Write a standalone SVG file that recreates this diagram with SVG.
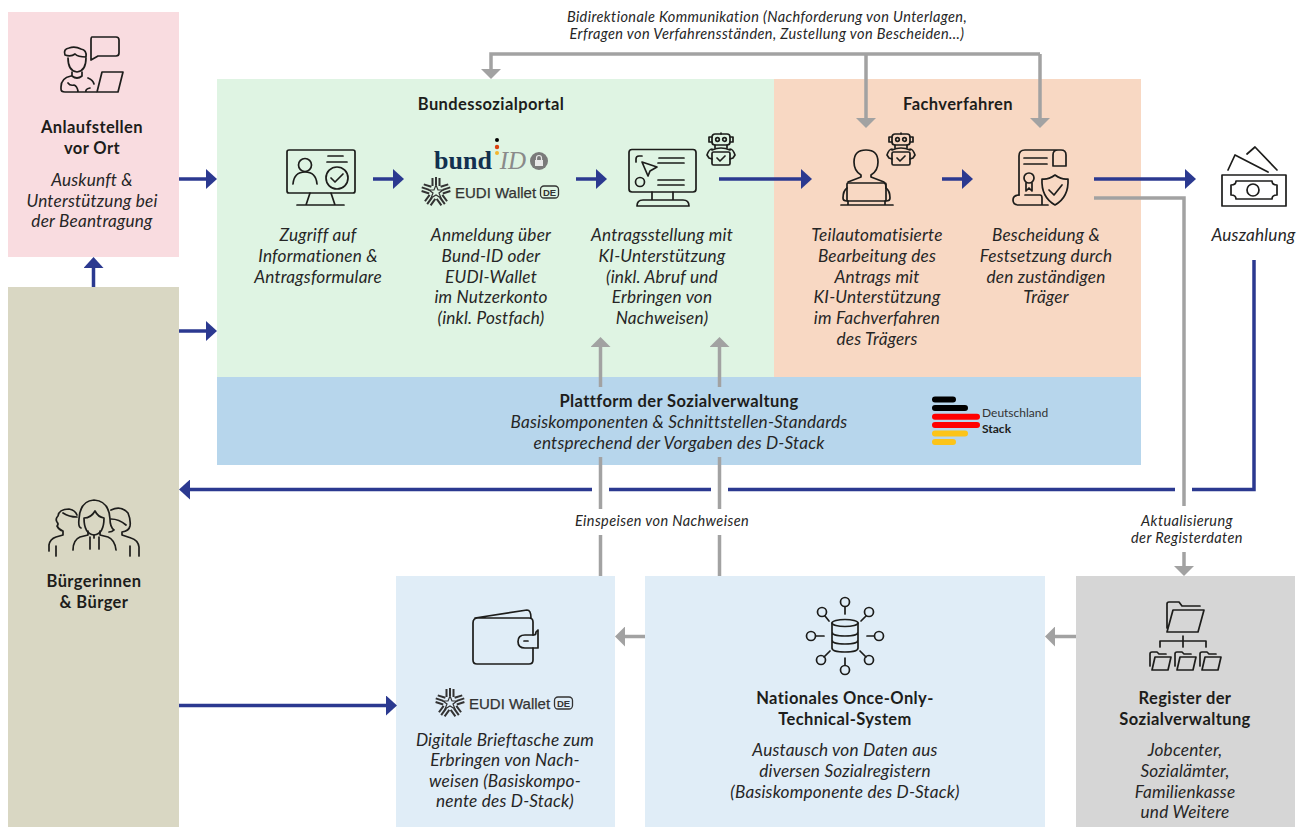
<svg xmlns="http://www.w3.org/2000/svg" xmlns:xlink="http://www.w3.org/1999/xlink" width="1309" height="827" viewBox="0 0 1309 827">
<style>
text{font-family:"Lato","Noto Sans",sans-serif;fill:#1d1d1b;text-anchor:middle}
.b{font-weight:700;font-size:16.5px;letter-spacing:.4px;transform:translateY(.8px)}
.i{font-style:italic;font-size:17.2px;letter-spacing:.2px;fill:#262626;transform:translateY(.8px)}
.s{font-style:italic;font-size:14.5px;letter-spacing:.4px;fill:#262626}
.ic{fill:none;stroke:#1d1d1b;stroke-width:1.7;stroke-linecap:round;stroke-linejoin:round}
.n{fill:none;stroke:#2b3990;stroke-width:3.5}
.g{fill:none;stroke:#a2a2a2;stroke-width:3.5}
</style>
<defs>
<marker id="an" markerUnits="userSpaceOnUse" markerWidth="11" markerHeight="20" refX="0" refY="10" orient="auto"><path d="M0 0L11 10L0 20Z" fill="#2b3990"/></marker>
<marker id="ag" markerUnits="userSpaceOnUse" markerWidth="10" markerHeight="20" refX="0" refY="10" orient="auto"><path d="M0 0L10 10L0 20Z" fill="#a2a2a2"/></marker>
<g id="robot" class="ic" stroke-width="1.4">
<rect x="-9" y="0" width="18" height="11" rx="3"/>
<path d="M-9 3h-3v5h3M9 3h3v5h-3M0 0v-1M-6 11v3M6 11v3"/>
<circle cx="-3.5" cy="5.5" r="1.8"/><circle cx="3.5" cy="5.5" r="1.8"/>
<rect x="-9" y="18" width="18" height="13" rx="1.5"/>
<path d="M-9 15q-3 0-5 6l2 3 3 1M9 15q3 0 5 6l-2 3-3 1M-9 16q9-4 18 0M-4 24l3 3 5-5"/>
</g>
<g id="eudi">
<g fill="none" stroke="#333" stroke-width="2">
<path d="M-3.500 -14V-6M0 -15V-7M3.500 -14V-6"/>
<path d="M-3.500 -14V-6M0 -15V-7M3.500 -14V-6" transform="rotate(72)"/>
<path d="M-3.500 -14V-6M0 -15V-7M3.500 -14V-6" transform="rotate(144)"/>
<path d="M-3.500 -14V-6M0 -15V-7M3.500 -14V-6" transform="rotate(216)"/>
<path d="M-3.500 -14V-6M0 -15V-7M3.500 -14V-6" transform="rotate(288)"/>
<path d="M0 -7L2 -2 7 -2 3 1 5 6 0 3-5 6-3 1-7-2-2-2Z" stroke-width="1.200"/>
</g>
<text x="19" y="5.500" style="text-anchor:start;font-family:'Liberation Sans',sans-serif;font-size:15px;font-weight:400;fill:#333;stroke:#333;stroke-width:.25">EUDI Wallet</text>
<rect x="104.500" y="-6" width="18" height="12" rx="3.500" fill="none" stroke="#333" stroke-width="1.300"/>
<text x="113.500" y="3.500" style="font-family:'Liberation Sans',sans-serif;font-size:9.500px;font-weight:700;fill:#333">DE</text>
</g>
<g id="smallfolder" class="ic" stroke-width="1.5"><path d="M0 15V3q0-2 2-2h5l2 2h7M2 19L5 6H21L18 19Z"/></g>
</defs>

<g id="node-anlaufstellen">
<rect x="8" y="12" width="171" height="245" fill="#f9dce0"/>
<g class="ic">
<path d="M92 37H116q3 0 3 3V53q0 3-3 3H98L91 60V40q0-3 1-3Z"/>
<path d="M68 58q0 13 9 14 9-1 9-14M65 55q-2-6 4-7 6-2 12 1 6 1 5 8-8 0-11-3-4 3-10 1Z"/>
<path d="M72 72v4q5 4 10 0v-4M71 76q-10 2-10 11v2q0 3 4 3H96M88 78q5 2 6 6M68 83q2 3 6 2 3 1 4 6M86 92q-1-3 4-4"/>
<path d="M102 72H123L118 92H97Z"/>
</g>
<text class="b" x="92" y="132">Anlaufstellen</text>
<text class="b" x="92" y="153">vor Ort</text>
<text class="i" x="92" y="185">Auskunft &amp;</text>
<text class="i" x="92" y="206">Unterstützung bei</text>
<text class="i" x="92" y="226.500">der Beantragung</text>
</g>

<g id="node-buerger">
<rect x="8" y="287" width="171" height="540" fill="#d9d7c3"/>
<g class="ic">
<path d="M81 528q-3-1-2-9 1-18 15-19 15 1 16 19 0 8 4 11-2 2-5 2"/>
<path d="M84 518q7 0 11-7 3 6 9 7 0 16-10 17-10-1-10-17Z"/>
<path d="M88 531v4l-8 2q-7 3-7 13M100 531v4l8 2q7 3 8 13M90 537v12M99 537v12M94 535v3"/>
<path d="M77 515q-2-5-8-6-10 0-11 7-3 3-1 6 2 2 0 4 2 4 6 5v4l-7 2q-6 2-7 8v6M56 546v10M77 517q-8 0-14-4"/>
<path d="M111 510q10-5 17 3 3 7 2 13-1 5-8 6v3l9 3q7 2 8 9v9M130 546v10M111 519q8 0 15 6"/>
</g>
<text class="b" x="94" y="586">Bürgerinnen</text>
<text class="b" x="94" y="607">&amp; Bürger</text>
</g>

<g id="node-bundessozialportal">
<rect x="217" y="79" width="557" height="298" fill="#dff4e3"/>
<text class="b" x="491" y="109">Bundessozialportal</text>
</g>

<g id="node-fachverfahren">
<rect x="774" y="79" width="367" height="298" fill="#f8d8c3"/>
<text class="b" x="958" y="109">Fachverfahren</text>
</g>

<g id="node-plattform">
<rect x="217" y="377" width="924" height="88" fill="#b7d6ec"/>
<text class="b" x="679" y="406">Plattform der Sozialverwaltung</text>
<text class="i" x="679" y="427">Basiskomponenten &amp; Schnittstellen-Standards</text>
<text class="i" x="679" y="448">entsprechend der Vorgaben des D-Stack</text>
<g stroke-width="6" stroke-linecap="round" fill="none">
<path d="M935 399.500H953M935 408H965" stroke="#000"/>
<path d="M935 416.800H977M935 425H977" stroke="#f00"/>
<path d="M935 433.500H965M935 442H953" stroke="#fcc419"/>
</g>
<text x="982" y="417" style="text-anchor:start;font-size:12px;fill:#333">Deutschland</text>
<text x="982" y="433" style="text-anchor:start;font-size:12px;font-weight:700">Stack</text>
</g>

<g id="node-zugriff">
<g class="ic">
<rect x="287" y="150" width="68" height="43" rx="2"/>
<path d="M310 193L306 205M331 193L335 205M297 205H344M328 156H343M327 162H347"/>
<circle cx="305" cy="165" r="6.500"/>
<path d="M293 184q1-12 12-12t12 12"/>
<circle cx="337" cy="178" r="11"/>
<path d="M331 178l4 4 8-8"/>
</g>
<text class="i" x="318" y="240">Zugriff auf</text>
<text class="i" x="318" y="261">Informationen &amp;</text>
<text class="i" x="318" y="282">Antragsformulare</text>
</g>

<g id="node-anmeldung">
<text x="463" y="169" style="font-family:'Liberation Serif',serif;font-weight:700;font-size:26px;fill:#12304f">bund</text>
<text x="513" y="169" style="font-family:'Liberation Serif',serif;font-style:italic;font-size:25px;fill:#8a8a8a">ID</text>
<circle cx="497" cy="140" r="2" fill="#000"/><circle cx="497" cy="147" r="2.200" fill="#d9400e"/><circle cx="497" cy="153" r="2" fill="#f5b52e"/>
<circle cx="539" cy="161" r="9" fill="#7a7a7a"/>
<rect x="535" y="160" width="8" height="6" fill="#e8e8e8"/><path d="M536.500 160v-2a2.500 2.500 0 015 0v2" fill="none" stroke="#e8e8e8" stroke-width="1.200"/>
<use xlink:href="#eudi" href="#eudi" x="436" y="192"/>
<text class="i" x="491" y="240">Anmeldung über</text>
<text class="i" x="491" y="261">Bund-ID oder</text>
<text class="i" x="491" y="282">EUDI-Wallet</text>
<text class="i" x="491" y="302.500">im Nutzerkonto</text>
<text class="i" x="491" y="323.500">(inkl. Postfach)</text>
</g>

<g id="node-antragstellung">
<g class="ic">
<rect x="629" y="149.500" width="67" height="42.500" rx="3"/>
<path d="M652 192v8M673 192v8M637 206q0-6 6-6H683q6 0 6 6ZM659 158H684M658 163H684M658 180H684M658 185H684M642 156h-3q-3 0-3 3v3"/>
<path d="M642 162L657 167 650 171 648 176Z"/>
<circle cx="640" cy="182" r="4.500"/>
</g>
<use xlink:href="#robot" href="#robot" x="721" y="134"/>
<text class="i" x="662" y="240">Antragsstellung mit</text>
<text class="i" x="662" y="261">KI-Unterstützung</text>
<text class="i" x="662" y="282">(inkl. Abruf und</text>
<text class="i" x="662" y="302.500">Erbringen von</text>
<text class="i" x="662" y="323.500">Nachweisen)</text>
</g>

<g id="node-bearbeitung">
<g class="ic">
<path d="M861 175q-7-4-7-13 0-12 12-12t12 12q0 9-7 13v2l13 5q2 2 2 6M861 175v2l-13 5"/>
<rect x="847" y="183" width="39" height="18" rx="1"/>
<path d="M841 205H893M847 188q-4 3-4 10 0 3 4 3M886 188q4 3 4 10 0 3-4 3M848 201v4M885 201v4"/>
</g>
<use xlink:href="#robot" href="#robot" x="901" y="134"/>
<text class="i" x="877" y="240">Teilautomatisierte</text>
<text class="i" x="877" y="261">Bearbeitung des</text>
<text class="i" x="877" y="282">Antrags mit</text>
<text class="i" x="877" y="302.500">KI-Unterstützung</text>
<text class="i" x="877" y="323.500">im Fachverfahren</text>
<text class="i" x="877" y="344.500">des Trägers</text>
</g>

<g id="node-bescheidung">
<g class="ic">
<path d="M1019 195V156q0-6 6-6H1061q5 0 5 5v11H1053V155q0-5 5-5M1024 158H1047M1024 164H1047"/>
<circle cx="1029" cy="178" r="5"/>
<path d="M1026 183v8l3-3 3 3v-8"/>
<path d="M1025 195H1040q2 0 2 3v7H1019q-6 0-6-5t6-5M1042 205H1048"/>
<path d="M1055 175q7 5 13 4 1 18-13 26-14-8-13-26 6 1 13-4Z"/>
<path d="M1049 190l5 5 8-10"/>
</g>
<text class="i" x="1046" y="240">Bescheidung &amp;</text>
<text class="i" x="1046" y="261">Festsetzung durch</text>
<text class="i" x="1046" y="282">den zuständigen</text>
<text class="i" x="1046" y="302.500">Träger</text>
</g>

<g id="node-auszahlung">
<g class="ic">
<rect x="1222" y="175" width="64" height="31"/>
<path d="M1228 170L1235 155 1268 172M1247 154L1255 147 1277 170"/>
<path d="M1236 181H1272q0 4 5 4v10q-5 0-5 4H1236q0-4-5-4V185q5 0 5-4Z"/>
<circle cx="1253" cy="190" r="6"/>
</g>
<text class="i" x="1253.500" y="240">Auszahlung</text>
</g>

<g id="node-wallet">
<rect x="396" y="576" width="219" height="251" fill="#e0edf7"/>
<g class="ic">
<path d="M475 618L527 610q4 0 4 8M478 618H529q4 0 4 4V635M533 648V660q0 4-4 4H477q-4 0-4-4V623q0-5 5-5"/>
<path d="M538 630V648H525q-7 0-7-6.500t7-6.500H534q2 0 2-3ZM524 641h4"/>
</g>
<use xlink:href="#eudi" href="#eudi" x="450" y="703"/>
<text class="i" x="505" y="745">Digitale Brieftasche zum</text>
<text class="i" x="505" y="765.500">Erbringen von Nach-</text>
<text class="i" x="505" y="786">weisen (Basiskompo-</text>
<text class="i" x="505" y="806.500">nente des D-Stack)</text>
</g>

<g id="node-noots">
<rect x="645" y="576" width="400" height="251" fill="#e0edf7"/>
<g class="ic">
<ellipse cx="845" cy="623" rx="13" ry="3.500"/>
<path d="M832 623V648q0 4 13 4t13-4V623M832 632q0 4 13 4t13-4M832 640q0 4 13 4t13-4"/>
<circle cx="845" cy="602" r="4.500"/><circle cx="822" cy="612" r="4.500"/><circle cx="869" cy="612" r="4.500"/><circle cx="811" cy="636" r="4.500"/><circle cx="879" cy="636" r="4.500"/><circle cx="821" cy="660" r="4.500"/><circle cx="869" cy="660" r="4.500"/><circle cx="845" cy="670" r="4.500"/>
<path d="M845 607V614M825 616L829 621M866 616L861 621M816 636H824M874 636H867M824 657L830 651M866 657L860 651M845 665V658"/>
</g>
<text class="b" x="845" y="703">Nationales Once-Only-</text>
<text class="b" x="845" y="724">Technical-System</text>
<text class="i" x="845" y="755">Austausch von Daten aus</text>
<text class="i" x="845" y="776">diversen Sozialregistern</text>
<text class="i" x="845" y="797">(Basiskomponente des D-Stack)</text>
</g>

<g id="node-register">
<rect x="1076" y="576" width="219" height="251" fill="#d6d6d6"/>
<g class="ic">
<path d="M1167 628V604q0-2 2-2h10l3 4h18M1173 610H1204L1198 632H1167Z"/>
<path d="M1183 636V647M1160 647V641H1206V647"/>
</g>
<use xlink:href="#smallfolder" href="#smallfolder" x="1150" y="651"/>
<use xlink:href="#smallfolder" href="#smallfolder" x="1175" y="651"/>
<use xlink:href="#smallfolder" href="#smallfolder" x="1200" y="651"/>
<text class="b" x="1185" y="703">Register der</text>
<text class="b" x="1185" y="724">Sozialverwaltung</text>
<text class="i" x="1185" y="755">Jobcenter,</text>
<text class="i" x="1185" y="776">Sozialämter,</text>
<text class="i" x="1185" y="797">Familienkasse</text>
<text class="i" x="1185" y="817.500">und Weitere</text>
</g>

<g id="connectors">
<g class="g">
<path d="M1040 54H491V69" marker-end="url(#ag)"/>
<path d="M866 54V118" marker-end="url(#ag)"/>
<path d="M1040 54V118" marker-end="url(#ag)"/>
<path d="M1094 198H1184V506"/>
<path d="M1184 552V566" marker-end="url(#ag)"/>
<path d="M1076 636.500H1055" marker-end="url(#ag)"/>
<path d="M645 636.500H625" marker-end="url(#ag)"/>
<path d="M600.500 576V535M600.500 509V457M600.500 387V347" marker-end="url(#ag)"/>
<path d="M719.500 576V535M719.500 509V457M719.500 387V347" marker-end="url(#ag)"/>
</g>
<g class="n">
<path d="M179 179H206" marker-end="url(#an)"/>
<path d="M179 331H206" marker-end="url(#an)"/>
<path d="M93.500 287V268" marker-end="url(#an)"/>
<path d="M373 179H393" marker-end="url(#an)"/>
<path d="M576 179H596" marker-end="url(#an)"/>
<path d="M719 179H801" marker-end="url(#an)"/>
<path d="M942 179H962" marker-end="url(#an)"/>
<path d="M1094 179H1185" marker-end="url(#an)"/>
<path d="M179 705.500H386" marker-end="url(#an)"/>
<path d="M1254 260V489.500H1192M1175 489.500H728M711 489.500H609M592 489.500H190" marker-end="url(#an)"/>
</g>
</g>

<g id="labels">
<text class="s" x="767" y="21.500">Bidirektionale Kommunikation (Nachforderung von Unterlagen,</text>
<text class="s" x="767" y="38.500">Erfragen von Verfahrensständen, Zustellung von Bescheiden…)</text>
<text class="s" x="662" y="526">Einspeisen von Nachweisen</text>
<text class="s" x="1187" y="525.500">Aktualisierung</text>
<text class="s" x="1187" y="542.500">der Registerdaten</text>
</g>
</svg>
